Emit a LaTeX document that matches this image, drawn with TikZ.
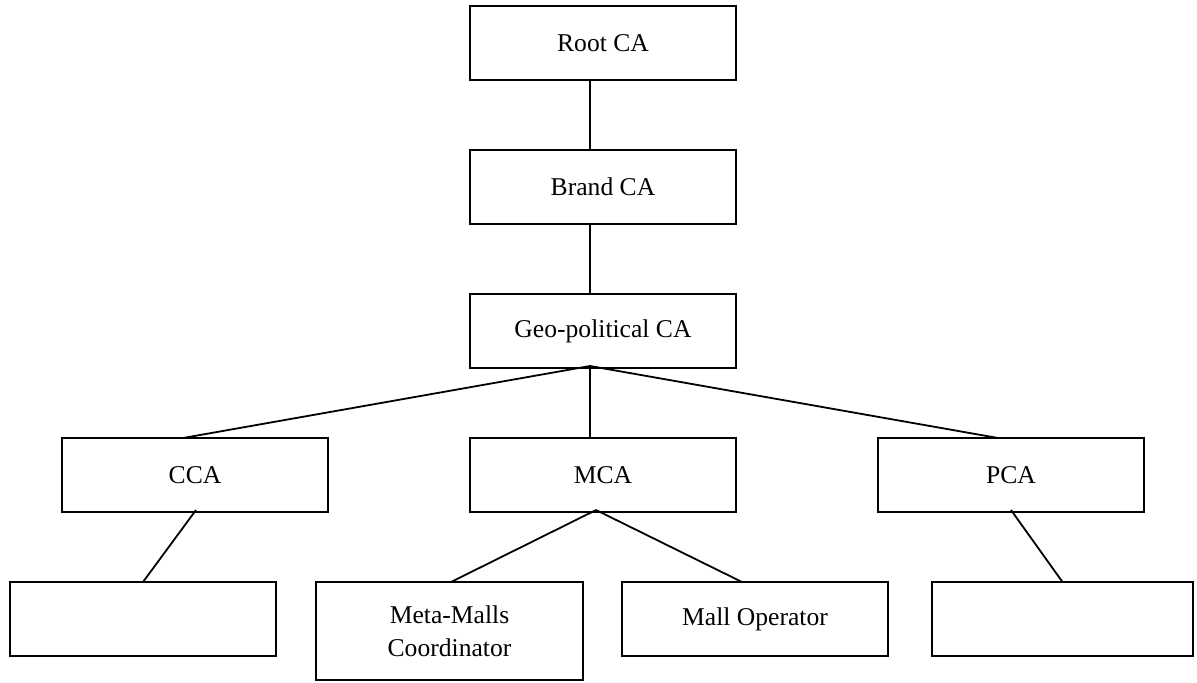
\documentclass[tikz,border=0pt]{standalone}
\usepackage{fontspec}
\setmainfont{Liberation Serif}
\tikzset{
  box/.style={draw=black, line width=0.9pt, rectangle, inner sep=0pt, outer sep=0pt,
    minimum width=133pt, minimum height=37pt, align=center,
    font=\fontsize{12.8}{16.5}\selectfont},
  link/.style={draw=black, line width=0.9pt}
}
\begin{document}
\begin{tikzpicture}[x=1pt,y=1pt]
\useasboundingbox (0,0) rectangle (598.5,-341);
\node[box] (root) at (301.5,-21.5) {Root CA};
\node[box] (brand) at (301.5,-93.5) {Brand CA};
\node[box] (geo) at (301.5,-165.5) {Geo-political CA};
\node[box] (cca) at (97.5,-237.5) {CCA};
\node[box] (mca) at (301.5,-237.5) {MCA};
\node[box] (pca) at (505.5,-237.5) {PCA};
\node[box] (b1) at (71.5,-309.5) {};
\node[box, minimum width=133.5pt, minimum height=49pt] (meta) at (224.75,-315.5) {Meta-Malls\\Coordinator};
\node[box] (mall) at (377.5,-309.5) {Mall Operator};
\node[box, minimum width=130.5pt] (b4) at (531.25,-309.5) {};
\draw[link] ([xshift=-6.5pt]root.south) -- ([xshift=-6.5pt]brand.north);
\draw[link] ([xshift=-6.5pt]brand.south) -- ([xshift=-6.5pt]geo.north);
\coordinate (gj) at ([xshift=-6.5pt,yshift=1pt]geo.south);
\draw[link] (gj) -- ([xshift=-6pt]cca.north);
\draw[link] (gj) -- ([xshift=-6.5pt]mca.north);
\draw[link] (gj) -- ([xshift=-6.5pt]pca.north);
\draw[link] ([xshift=0.5pt,yshift=1pt]cca.south) -- (b1.north);
\coordinate (mj) at ([xshift=-3.5pt,yshift=1pt]mca.south);
\draw[link] (mj) -- ([xshift=0.75pt]meta.north);
\draw[link] (mj) -- ([xshift=-6.5pt]mall.north);
\draw[link] ([yshift=1pt]pca.south) -- (b4.north);
\end{tikzpicture}
\end{document}
